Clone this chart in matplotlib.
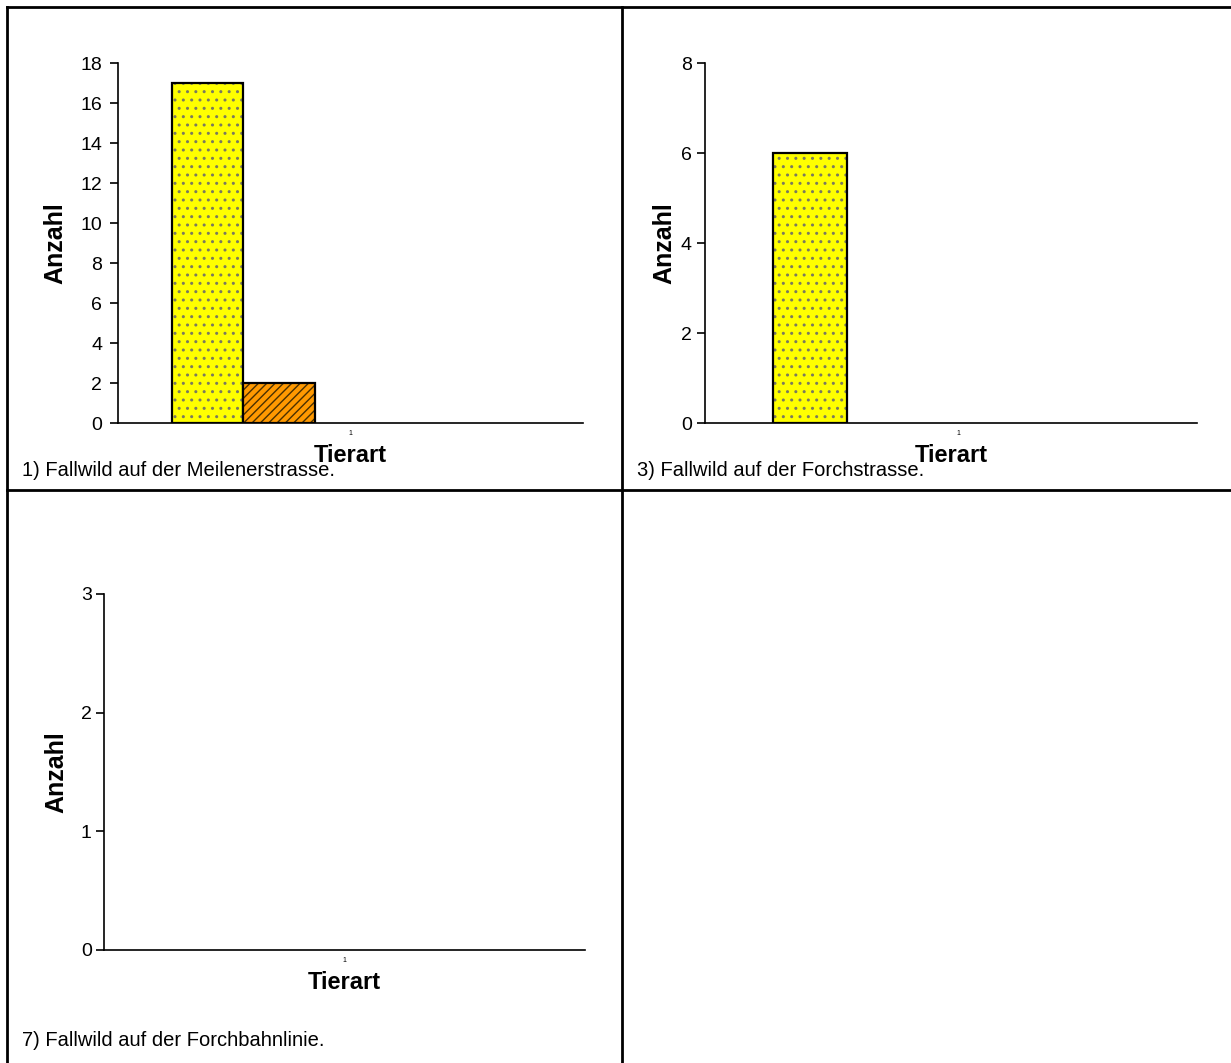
import matplotlib
matplotlib.use('Agg')
import matplotlib.pyplot as plt
from matplotlib.lines import Line2D
import numpy as np

plt.rcParams['font.family'] = ['Liberation Sans', 'DejaVu Sans']
plt.rcParams['hatch.linewidth'] = 1.0

# Data
categories = ["1"]
meilen_values = [17, 2, 0, 0, 0]
forch_values = [6, 0, 0, 0, 0]
forchbahn_values = [0, 0, 0, 0, 0]
series_colors = ['#FFFF00', '#FF9900', '#FFFFFF', '#FFFFFF', '#FFFFFF']
series_hatches = ['..', '////', '', '', '']
hatch_colors = ['#7a7a60', '#4a3000', '#000000', '#000000', '#000000']

captions = ["1) Fallwild auf der Meilenerstrasse.",
            "3) Fallwild auf der Forchstrasse.",
            "7) Fallwild auf der Forchbahnlinie."]
y_ticks_1 = [0, 2, 4, 6, 8, 10, 12, 14, 16, 18]
y_ticks_2 = [0, 2, 4, 6, 8]
y_ticks_3 = [0, 1, 2, 3]

W, H = 1231, 1063
fig = plt.figure(figsize=(W / 100, H / 100), dpi=100)


def px_rect(x0, y0, x1, y1):
    return [x0 / W, 1 - y1 / H, (x1 - x0) / W, (y1 - y0) / H]


def bar_panel(rect, values, yticks, xlim, ylabel_x, tick_pad):
    ax = fig.add_axes(rect)
    n = len(values)
    w = 1 / (n + 1.5)
    x = np.arange(len(categories))
    for i, v in enumerate(values):
        if v > 0:
            pos = x - n * w / 2 + w * (i + 0.5)
            # fill + pattern
            ax.bar(pos, v, width=w, color=series_colors[i],
                   hatch=series_hatches[i], edgecolor=hatch_colors[i],
                   linewidth=0)
            # black outline
            ax.bar(pos, v, width=w, fill=False, edgecolor='black',
                   linewidth=1.6)
    ax.set_xlim(*xlim)
    ax.set_ylim(yticks[0], yticks[-1])
    ax.set_yticks(yticks)
    ax.set_xticks(x)
    ax.set_xticklabels(categories, fontsize=5)
    ax.tick_params(axis='x', length=0, pad=5)
    ax.tick_params(axis='y', direction='out', length=6, width=1.2,
                   labelsize=14, pad=tick_pad)
    for s in ['top', 'right']:
        ax.spines[s].set_visible(False)
    ax.spines['left'].set_linewidth(1.2)
    ax.spines['bottom'].set_linewidth(1.2)
    ax.set_xlabel("Tierart", fontsize=17, fontweight='bold', labelpad=5)
    ax.set_ylabel("Anzahl", fontsize=18, fontweight='bold')
    ax.yaxis.set_label_coords(ylabel_x, 0.5)
    return ax


bar_panel(px_rect(118, 63, 583, 423), meilen_values, y_ticks_1,
          (-0.5, 0.5), -0.108, 5.5)
bar_panel(px_rect(705, 63, 1197, 423), forch_values, y_ticks_2,
          (-0.526, 0.497), -0.058, 3.4)
bar_panel(px_rect(104, 594, 585, 950), forchbahn_values, y_ticks_3,
          (-0.5, 0.5), -0.075, 2.8)

# captions
fig.text(22 / W, 1 - 471 / H, captions[0], fontsize=14.5, va='center', ha='left')
fig.text(637 / W, 1 - 471 / H, captions[1], fontsize=14.5, va='center', ha='left')
fig.text(22 / W, 1 - 1041 / H, captions[2], fontsize=14.5, va='center', ha='left')

# table frame
lw = 2
for (x0, y0, x1, y1) in [(7, 7, W, 7), (7, 7, 7, H), (622, 7, 622, H), (7, 490, W, 490)]:
    fig.add_artist(Line2D([x0 / W, x1 / W], [1 - y0 / H, 1 - y1 / H],
                          color='black', linewidth=lw, transform=fig.transFigure))

fig.savefig('out.png', dpi=100, facecolor='white')
